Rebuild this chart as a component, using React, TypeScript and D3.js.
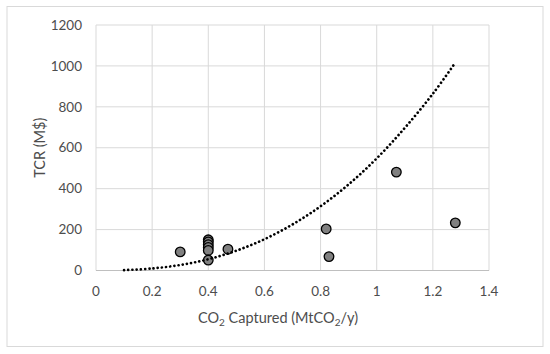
import React from "react";
import * as d3 from "d3";

const captured: number[] = [0.3, 0.4, 0.4, 0.4, 0.4, 0.4, 0.4, 0.47, 0.82, 0.83, 1.07, 1.28];
const tcr: number[] = [91, 150, 140, 126, 113, 98, 51, 104, 203, 68, 481, 233];

const trendX: number[] = [0.1, 0.2, 0.3, 0.4, 0.5, 0.6, 0.7, 0.8, 0.9, 1.0, 1.1, 1.2, 1.28];
const trendY: number[] = [1.7, 9.8, 27, 55, 97, 153, 225, 314, 421, 548, 697, 864, 1016];

const xTicks: number[] = [0, 0.2, 0.4, 0.6, 0.8, 1, 1.2, 1.4];
const yTicks: number[] = [0, 200, 400, 600, 800, 1000, 1200];

const W = 550;
const H = 354;
const left = 96;
const right = 489;
const top = 25;
const bottom = 270.5;

export default function App() {
  const x = d3.scaleLinear().domain([0, 1.4]).range([left, right]);
  const y = d3.scaleLinear().domain([0, 1200]).range([bottom, top]);
  const line = d3
    .line<number>()
    .x((_, i) => x(trendX[i]))
    .y((d) => y(d))
    .curve(d3.curveCatmullRom);
  const font = "Lato, 'Open Sans', sans-serif";
  const textColor = "#4d4d4d";
  return (
    <svg
      width={W}
      height={H}
      style={{ position: "absolute", left: 0, top: 0, background: "#fff" }}
      fontFamily={font}
    >
      <rect x={0} y={0} width={W} height={H} fill="#fff" />
      <rect x={7} y={6.5} width={536} height={340} fill="none" stroke="#d9d9d9" strokeWidth={1} />
      {xTicks.map((t) => (
        <line key={"gx" + t} x1={x(t)} x2={x(t)} y1={top} y2={bottom} stroke="#d9d9d9" strokeWidth={1} />
      ))}
      {yTicks.map((t) => (
        <line key={"gy" + t} x1={left} x2={right} y1={y(t)} y2={y(t)} stroke="#d9d9d9" strokeWidth={1} />
      ))}
      <line x1={left} x2={right} y1={bottom} y2={bottom} stroke="#bfbfbf" strokeWidth={1} />
      {yTicks.map((t) => (
        <text key={"ty" + t} x={82} y={y(t)} dy="0.35em" textAnchor="end" fontSize={13.5} fill={textColor}>
          {t}
        </text>
      ))}
      {xTicks.map((t) => (
        <text key={"tx" + t} x={x(t)} y={291} dy="0.35em" textAnchor="middle" fontSize={13.5} fill={textColor}>
          {String(t)}
        </text>
      ))}
      <text
        transform={`translate(40,${(top + bottom) / 2}) rotate(-90)`}
        textAnchor="middle"
        dy="0.35em"
        fontSize={14.5}
        fill={textColor}
      >
        TCR (M$)
      </text>
      <text x={278} y={323} textAnchor="middle" fontSize={14.5} fill={textColor}>
        CO
        <tspan fontSize={10} dy={3}>2</tspan>
        <tspan dy={-3}> Captured (MtCO</tspan>
        <tspan fontSize={10} dy={3}>2</tspan>
        <tspan dy={-3}>/y)</tspan>
      </text>
      {captured.map((c, i) => (
        <circle key={"p" + i} cx={x(c)} cy={y(tcr[i])} r={4.8} fill="#808080" stroke="#000" strokeWidth={1.3} />
      ))}
      <path
        d={line(trendY) || ""}
        fill="none"
        stroke="#000"
        strokeWidth={2.7}
        strokeLinecap="round"
        strokeDasharray="0.01 4.2"
      />
    </svg>
  );
}
